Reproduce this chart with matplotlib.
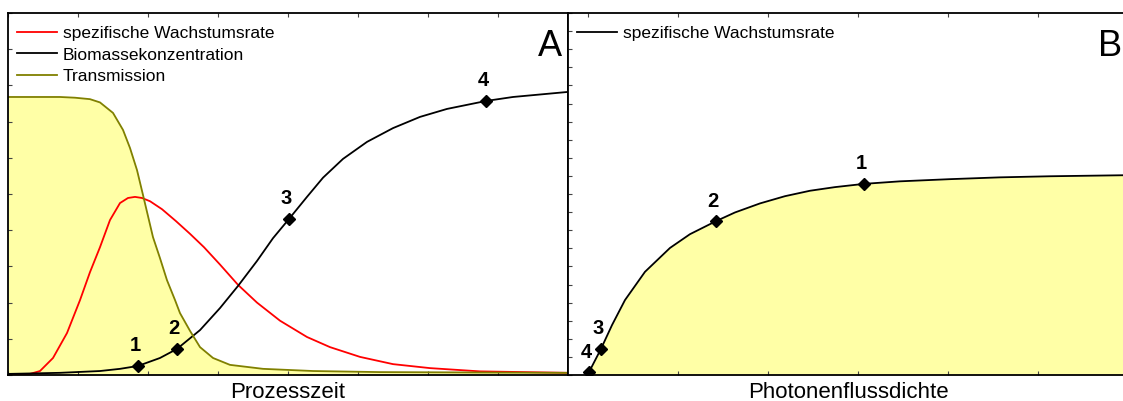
import matplotlib.pyplot as plt

plt.rcParams['font.family'] = ['Liberation Sans', 'DejaVu Sans']

# Teil A: Verlauf über die Prozesszeit (x in Zeiteinheiten, y normiert)
t_trans = [0, 0.743, 0.957, 1.171, 1.314, 1.5, 1.643, 1.743, 1.843, 1.929, 2.071,
           2.171, 2.271, 2.386, 2.457, 2.6, 2.743, 2.929, 3.171, 3.643, 4.357,
           5.314, 8.0]
transmission = [0.768, 0.768, 0.766, 0.762, 0.753, 0.724, 0.677, 0.627, 0.566,
                0.497, 0.381, 0.323, 0.262, 0.207, 0.171, 0.122, 0.077, 0.047,
                0.028, 0.017, 0.011, 0.008, 0.006]

t_mu = [0, 0.171, 0.314, 0.457, 0.643, 0.843, 1.029, 1.171, 1.314, 1.457, 1.6,
        1.714, 1.814, 1.914, 2.029, 2.2, 2.4, 2.6, 2.8, 3.029, 3.286, 3.557,
        3.886, 4.271, 4.6, 5.029, 5.5, 6.029, 6.743, 8.0]
mu = [0.0, 0.0, 0.003, 0.011, 0.047, 0.116, 0.207, 0.284, 0.353, 0.428, 0.475,
      0.489, 0.492, 0.489, 0.480, 0.458, 0.425, 0.390, 0.353, 0.305, 0.249,
      0.200, 0.150, 0.105, 0.077, 0.050, 0.030, 0.019, 0.010, 0.006]

t_bio = [0, 0.743, 1.314, 1.6, 1.857, 2.171, 2.414, 2.743, 3.029, 3.286, 3.557,
         3.786, 4.014, 4.271, 4.5, 4.786, 5.129, 5.5, 5.886, 6.271, 6.829,
         7.214, 8.0]
biomasse = [0.003, 0.006, 0.011, 0.017, 0.025, 0.047, 0.072, 0.124, 0.185,
            0.246, 0.315, 0.378, 0.431, 0.492, 0.545, 0.597, 0.644, 0.682,
            0.713, 0.735, 0.757, 0.768, 0.782]

# Markierte Zustände 1-4 auf der Biomassekurve
stufen = ['1', '2', '3', '4']
stufen_t = [1.857, 2.414, 4.014, 6.829]
stufen_bio = [0.025, 0.072, 0.431, 0.757]

# Teil B: Wachstumsrate über der Photonenflussdichte
phi = [0.011, 0.144, 0.267, 0.411, 0.633, 0.911, 1.133, 1.422, 1.633, 1.911,
       2.189, 2.467, 2.744, 3.067, 3.467, 4.022, 4.578, 5.133, 6.0]
mu_phi = [0.008, 0.072, 0.138, 0.207, 0.285, 0.351, 0.389, 0.425, 0.449, 0.474,
          0.494, 0.509, 0.519, 0.528, 0.535, 0.541, 0.546, 0.549, 0.552]
stufen_phi = [3.067, 1.422, 0.144, 0.011]
stufen_mu = [0.528, 0.425, 0.072, 0.008]

gelb = '#FFFFA6'
oliv = '#808000'

fig = plt.figure(figsize=(11.23, 4.01), dpi=100)
axA = fig.add_axes([8 / 1123, 26 / 401, 560 / 1123, 362 / 401])
axB = fig.add_axes([568 / 1123, 26 / 401, 560 / 1123, 362 / 401])

leg_opts = dict(loc='upper left', bbox_to_anchor=(0.016, 0.965), frameon=False,
                fontsize=12.5, handlelength=2.3, handletextpad=0.35,
                labelspacing=0.38, borderpad=0, borderaxespad=0)

# --- A ---
axA.fill_between(t_trans, transmission, 0, color=gelb, lw=0)
axA.plot(t_mu, mu, color='red', lw=1.3, label='spezifische Wachstumsrate')
axA.plot(t_bio, biomasse, color='black', lw=1.3, label='Biomassekonzentration')
axA.plot(t_trans, transmission, color=oliv, lw=1.3, label='Transmission')
axA.plot(stufen_t, stufen_bio, 'D', color='black', ms=6, ls='none')
for s, x, y in zip(stufen, stufen_t, stufen_bio):
    axA.annotate(s, (x, y), xytext=(-3, 20), textcoords='offset pixels',
                 ha='center', va='center', fontsize=14.5, fontweight='bold')
axA.set_xlim(0, 8)
axA.set_ylim(0, 1)
axA.set_xticks(range(0, 9))
axA.set_yticks([i / 10 for i in range(11)])
axA.set_xlabel('Prozesszeit', fontsize=16, labelpad=5)
axA.text(0.99, 0.955, 'A', transform=axA.transAxes, ha='right', va='top',
         fontsize=26)
axA.legend(**leg_opts)

# --- B ---
axB.fill_between(phi, mu_phi, 0, color=gelb, lw=0)
axB.plot(phi, mu_phi, color='black', lw=1.3, label='spezifische Wachstumsrate')
axB.plot(stufen_phi, stufen_mu, 'D', color='black', ms=6, ls='none')
for s, x, y in zip(stufen, stufen_phi, stufen_mu):
    axB.annotate(s, (x, y), xytext=(-3, 20), textcoords='offset pixels',
                 ha='center', va='center', fontsize=14.5, fontweight='bold')
axB.set_xlim(-20 / 90, 6)
axB.set_ylim(0, 1)
axB.set_xticks(range(0, 7))
axB.set_yticks([i / 20 for i in range(21)])
axB.set_xlabel('Photonenflussdichte', fontsize=16, labelpad=5)
axB.text(0.99, 0.955, 'B', transform=axB.transAxes, ha='right', va='top',
         fontsize=26)
axB.legend(**leg_opts)

for ax in (axA, axB):
    ax.tick_params(direction='in', length=3, width=0.8, top=True,
                   labelbottom=False, labelleft=False, color='#444444')
    for sp in ax.spines.values():
        sp.set_linewidth(1.3)

fig.savefig('out.png', dpi=100)
